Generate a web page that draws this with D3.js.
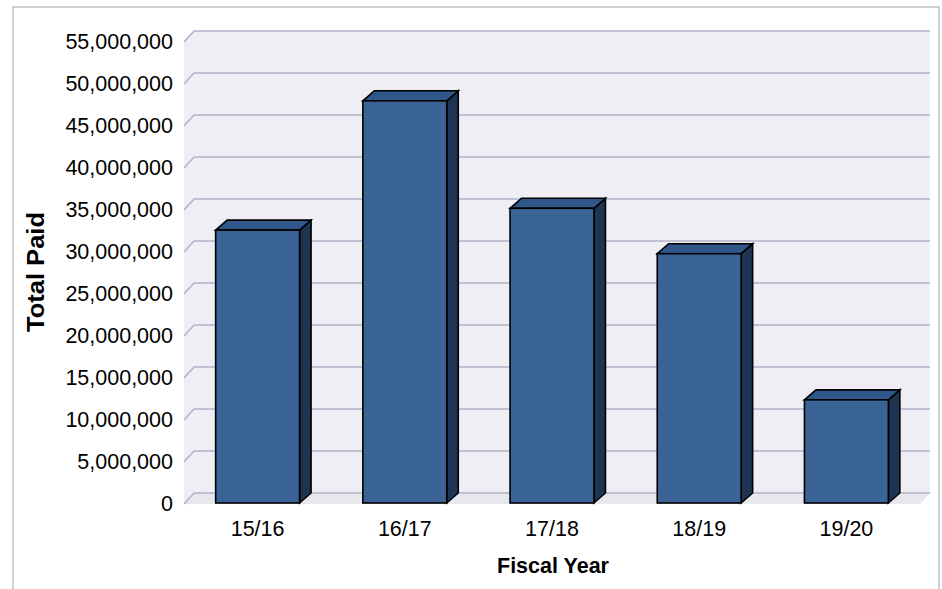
<!DOCTYPE html>
<html>
<head>
<meta charset="utf-8">
<script src="https://cdn.jsdelivr.net/npm/d3@7/dist/d3.min.js"></script>
<style>
  html, body { margin: 0; padding: 0; background: #ffffff; }
  svg { display: block; }
  text { font-family: "Liberation Sans", Arial, sans-serif; fill: #000; }
</style>
</head>
<body>
<svg id="chart" width="942" height="589"></svg>
<script>
// ---- data ----
const categories = ["15/16", "16/17", "17/18", "18/19", "19/20"];
const totalPaid = [32600000, 48000000, 35200000, 29800000, 12400000];
const tickValues = [0, 5000000, 10000000, 15000000, 20000000, 25000000, 30000000,
                    35000000, 40000000, 45000000, 50000000, 55000000];
const xTitle = "Fiscal Year";
const yTitle = "Total Paid";

// ---- layout ----
const plotLeft = 184, plotRight = 920, plotBottom = 504, plotTop = 42;
const wallDX = 10, wallDY = -11;   // depth of the back wall
const barDX = 11.5, barDY = -10;   // depth of each column

const svg = d3.select("#chart");

// chart-area frame
svg.append("rect")
  .attr("x", 13).attr("y", 7).attr("width", 926).attr("height", 600)
  .attr("fill", "none").attr("stroke", "#c0c0c0").attr("stroke-width", 1.5);

const x = d3.scaleBand().domain(categories).range([plotLeft, plotRight])
  .paddingInner(0.43).paddingOuter(0.215);
const y = d3.scaleLinear().domain([0, 55000000]).range([plotBottom, plotTop]);

const yMax = y(55000000);
// back wall + left side wall
svg.append("path")
  .attr("d", `M${plotLeft},${plotBottom} L${plotLeft},${yMax} L${plotLeft + wallDX},${yMax + wallDY} L${plotRight + wallDX},${yMax + wallDY} L${plotRight + wallDX},${plotBottom + wallDY} L${plotLeft + wallDX},${plotBottom + wallDY} Z`)
  .attr("fill", "#efeef4");
// floor
svg.append("path")
  .attr("d", `M${plotLeft},${plotBottom} L${plotLeft + wallDX},${plotBottom + wallDY} L${plotRight + wallDX},${plotBottom + wallDY} L${plotRight},${plotBottom} Z`)
  .attr("fill", "#e7e7ed");

// gridlines
const grid = svg.append("g").attr("fill", "none").attr("stroke", "#b3b3cb").attr("stroke-width", 1.6);
tickValues.forEach(v => {
  const yy = y(v);
  grid.append("path")
    .attr("d", `M${plotLeft},${yy} L${plotLeft + wallDX},${yy + wallDY} L${plotRight + wallDX},${yy + wallDY}`);
});

// bars
const bars = svg.append("g").attr("stroke", "#000").attr("stroke-width", 1.6).attr("stroke-linejoin", "miter");
categories.forEach((c, i) => {
  const x0 = x(c), x1 = x(c) + x.bandwidth();
  const yt = y(totalPaid[i]), yb = y(0) - 1;
  bars.append("path")
    .attr("d", `M${x1},${yb} L${x1 + barDX},${yb + barDY} L${x1 + barDX},${yt + barDY} L${x1},${yt} Z`)
    .attr("fill", "#1f3352");
  bars.append("path")
    .attr("d", `M${x0},${yt} L${x0 + barDX},${yt + barDY} L${x1 + barDX},${yt + barDY} L${x1},${yt} Z`)
    .attr("fill", "#30578a");
  bars.append("rect")
    .attr("x", x0).attr("y", yt).attr("width", x.bandwidth()).attr("height", yb - yt)
    .attr("fill", "#3a6496");
});

// value axis labels
const yAxis = svg.append("g").attr("transform", `translate(${plotLeft},0)`)
  .call(d3.axisLeft(y).tickValues(tickValues).tickSize(0).tickPadding(11).tickFormat(d3.format(",")));
yAxis.select(".domain").remove();
yAxis.selectAll("text").attr("font-size", 21.5).attr("font-family", "Liberation Sans").attr("fill", "#000");

// category axis labels
const xAxis = svg.append("g").attr("transform", `translate(0,${plotBottom})`)
  .call(d3.axisBottom(x).tickSize(0).tickPadding(17));
xAxis.select(".domain").remove();
xAxis.selectAll("text").attr("font-size", 21.5).attr("font-family", "Liberation Sans").attr("fill", "#000");

// axis titles
svg.append("text")
  .attr("x", 553).attr("y", 573).attr("text-anchor", "middle")
  .attr("font-size", 21.5).attr("font-weight", "bold").text(xTitle);
svg.append("text")
  .attr("transform", "translate(44,272) rotate(-90)").attr("text-anchor", "middle")
  .attr("font-size", 23).attr("font-weight", "bold")
  .attr("textLength", 120).attr("lengthAdjust", "spacingAndGlyphs").text(yTitle);
</script>
</body>
</html>
